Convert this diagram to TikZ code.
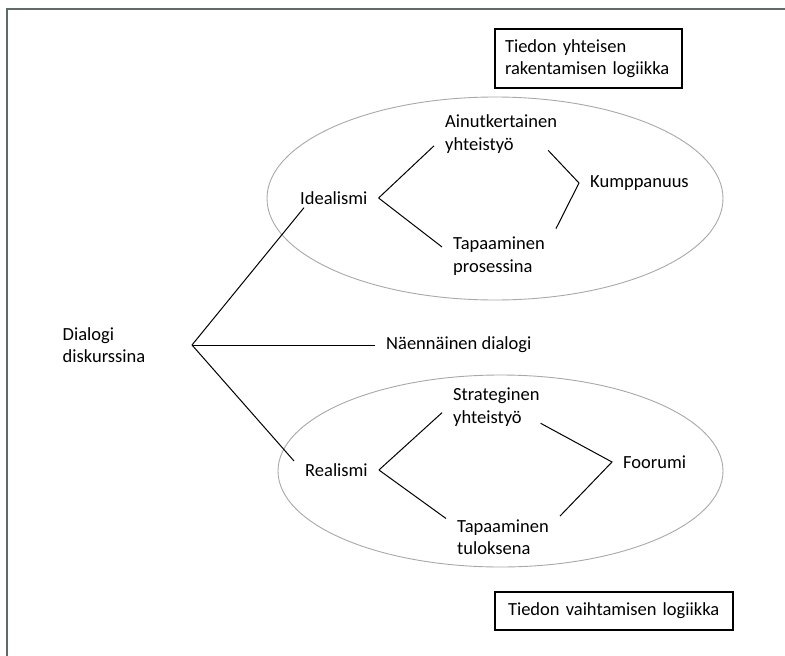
\documentclass[tikz,border=0pt]{standalone}
\usepackage{fontspec}
\setmainfont{Carlito}
\usetikzlibrary{positioning}
\definecolor{framegray}{HTML}{5F6B6B}
\definecolor{ovalgray}{HTML}{A8A8A8}

\begin{document}
\begin{tikzpicture}[x=1pt, y=-1pt,
  every node/.style={font=\fontsize{18.5}{22.5}\selectfont},
  lab/.style={align=left, anchor=west, inner xsep=11pt, inner ysep=3pt},
  box/.style={draw, line width=1.1pt, align=left},
  oval/.style={draw=ovalgray, line width=0.9pt},
  link/.style={draw, line width=1pt}]
\useasboundingbox (0,0) rectangle (785,656);
% 1. frame (only top and left edge are visible)
\draw[framegray, line width=2pt] (785,9) -- (7,9) -- (7,656);

% 2. the two logics
\node[box, text width=167pt, inner xsep=10pt, minimum height=59pt] (yhteinen) at (588.5,58.5)
  {Tiedon yhteisen\\rakentamisen logiikka};
\node[box, text width=212pt, inner xsep=13pt, minimum height=38pt] (vaihto) at (614,611)
  {Tiedon vaihtamisen logiikka};

% 3. ovals
\draw[oval] (495,198.5) ellipse [x radius=228, y radius=101.5];
\draw[oval] (500.5,471) ellipse [x radius=222.5, y radius=96];

% 4. texts
\node[lab] (dialogi) at (51.5,345) {Dialogi\\diskurssina};
\node[lab] (naen)    at (375,345)  {Näennäinen dialogi};
\node[lab] (ideal)   at (289,198)  {Idealismi};
\node[lab] (ainut)   at (434,134)  {Ainutkertainen\\yhteistyö};
\node[lab] (prosess) at (442,256)  {Tapaaminen\\prosessina};
\node[lab] (kump)    at (579,183)  {Kumppanuus};
\node[lab] (real)    at (294,470)  {Realismi};
\node[lab] (strat)   at (442,407)  {Strateginen\\yhteistyö};
\node[lab] (tulos)   at (446,537)  {Tapaaminen\\tuloksena};
\node[lab] (foor)    at (612,462)  {Foorumi};

% 5. branches
\coordinate (haara) at (192,345);
\path[link] (haara) edge (ideal.198)
                    edge (naen.west)
                    edge (real.168);
\path[link] (ideal.east) edge (ainut.190)
                         edge (prosess.171);
\draw[link] ([xshift=-20pt, yshift=6pt]ainut.south east) -- (kump.west)
            -- ([yshift=5pt]prosess.north east);
\path[link] (real.east) edge (strat.186)
                        edge (tulos.162);
\draw[link] ([xshift=-10pt, yshift=6pt]strat.south east) -- (foor.west)
            -- (tulos.north east);
\end{tikzpicture}
\end{document}
